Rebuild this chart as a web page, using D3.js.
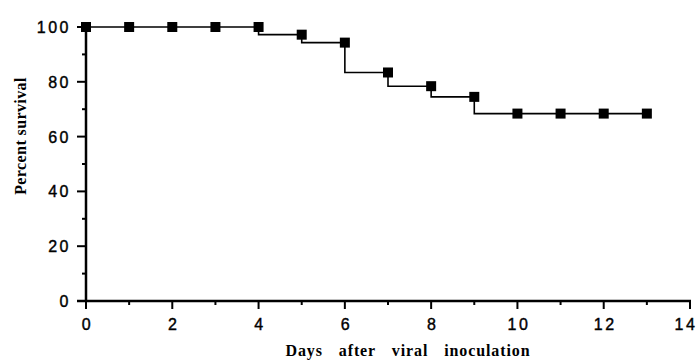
<!DOCTYPE html>
<html>
<head>
<meta charset="utf-8">
<script src="https://cdn.jsdelivr.net/npm/d3@7"></script>
<style>
  body { margin: 0; background: #fff; }
  svg { display: block; }
  .tick-label { font-family: "Liberation Sans", Arial, sans-serif; font-size: 16px; letter-spacing: 2.5px; fill: #000; stroke: #000; stroke-width: 0.4px; }
  .axis-title { font-family: "Liberation Serif", "Times New Roman", serif; font-weight: bold; font-size: 16px; fill: #000; }
</style>
</head>
<body>
<script>
// survival data
const days = [0, 1, 2, 3, 4, 5, 6, 7, 8, 9, 10, 11, 12, 13];
const survival = [100, 100, 100, 100, 100, 97.2, 94.3, 83.4, 78.4, 74.5, 68.4, 68.4, 68.4, 68.4];
const xTicks = [0, 2, 4, 6, 8, 10, 12, 14];
const xMinorTicks = [1, 3, 5, 7, 9, 11, 13];
const yTicks = [0, 20, 40, 60, 80, 100];
const yMinorTicks = [10, 30, 50, 70, 90];

const width = 700;
const height = 360;

const svg = d3.select("body").append("svg")
  .attr("width", width)
  .attr("height", height);

const x = d3.scaleLinear().domain([0, 14]).range([86, 690]);
const y = d3.scaleLinear().domain([0, 100]).range([301, 27]);

// axis lines
svg.append("line")
  .attr("x1", x(0)).attr("x2", x(0))
  .attr("y1", y(100) - 4).attr("y2", y(0) + 1)
  .attr("stroke", "#000").attr("stroke-width", 2.5);

svg.append("line")
  .attr("x1", x(0) - 9).attr("x2", x(14) + 1)
  .attr("y1", y(0)).attr("y2", y(0))
  .attr("stroke", "#000").attr("stroke-width", 2.5);

// y ticks
svg.selectAll(".ytick")
  .data(yTicks)
  .enter()
  .append("line")
  .attr("x1", x(0) - 9).attr("x2", x(0))
  .attr("y1", (d) => y(d)).attr("y2", (d) => y(d))
  .attr("stroke", "#000").attr("stroke-width", 2);

svg.selectAll(".yminor")
  .data(yMinorTicks)
  .enter()
  .append("line")
  .attr("x1", x(0) - 4).attr("x2", x(0))
  .attr("y1", (d) => y(d)).attr("y2", (d) => y(d))
  .attr("stroke", "#000").attr("stroke-width", 2);

// letter-spacing adds trailing space, so shift right-anchored labels
svg.selectAll(".ylabel")
  .data(yTicks)
  .enter()
  .append("text")
  .attr("class", "tick-label")
  .attr("x", x(0) - 15)
  .attr("y", (d) => y(d) + 6)
  .attr("text-anchor", "end")
  .text((d) => d);

// x ticks
svg.selectAll(".xtick")
  .data(xTicks)
  .enter()
  .append("line")
  .attr("x1", (d) => x(d)).attr("x2", (d) => x(d))
  .attr("y1", y(0)).attr("y2", y(0) + 8)
  .attr("stroke", "#000").attr("stroke-width", 2);

svg.selectAll(".xminor")
  .data(xMinorTicks)
  .enter()
  .append("line")
  .attr("x1", (d) => x(d)).attr("x2", (d) => x(d))
  .attr("y1", y(0)).attr("y2", y(0) + 4)
  .attr("stroke", "#000").attr("stroke-width", 2);

// keep the last label inside the page
svg.selectAll(".xlabel")
  .data(xTicks)
  .enter()
  .append("text")
  .attr("class", "tick-label")
  .attr("x", (d) => Math.min(x(d) + 1.5, 686))
  .attr("y", 330)
  .attr("text-anchor", "middle")
  .text((d) => d);

// axis titles
svg.append("text")
  .attr("class", "axis-title")
  .attr("x", 408)
  .attr("y", 356)
  .attr("text-anchor", "middle")
  .style("word-spacing", "11px")
  .style("letter-spacing", "0.9px")
  .text("Days after viral inoculation");

svg.append("text")
  .attr("class", "axis-title")
  .attr("transform", "translate(26,136) rotate(-90)")
  .attr("text-anchor", "middle")
  .style("letter-spacing", "0.4px")
  .text("Percent survival");

// step curve
const points = days.map((d, i) => [d, survival[i]]);
const line = d3.line()
  .x((d) => x(d[0]))
  .y((d) => y(d[1]))
  .curve(d3.curveStepBefore);

svg.append("path")
  .datum(points)
  .attr("d", line)
  .attr("fill", "none")
  .attr("stroke", "#000")
  .attr("stroke-width", 1.6);

// square markers
const size = 10;
svg.selectAll(".marker")
  .data(points)
  .enter()
  .append("rect")
  .attr("x", (d) => x(d[0]) - size / 2)
  .attr("y", (d) => y(d[1]) - size / 2)
  .attr("width", size)
  .attr("height", size)
  .attr("fill", "#000");
</script>
</body>
</html>
